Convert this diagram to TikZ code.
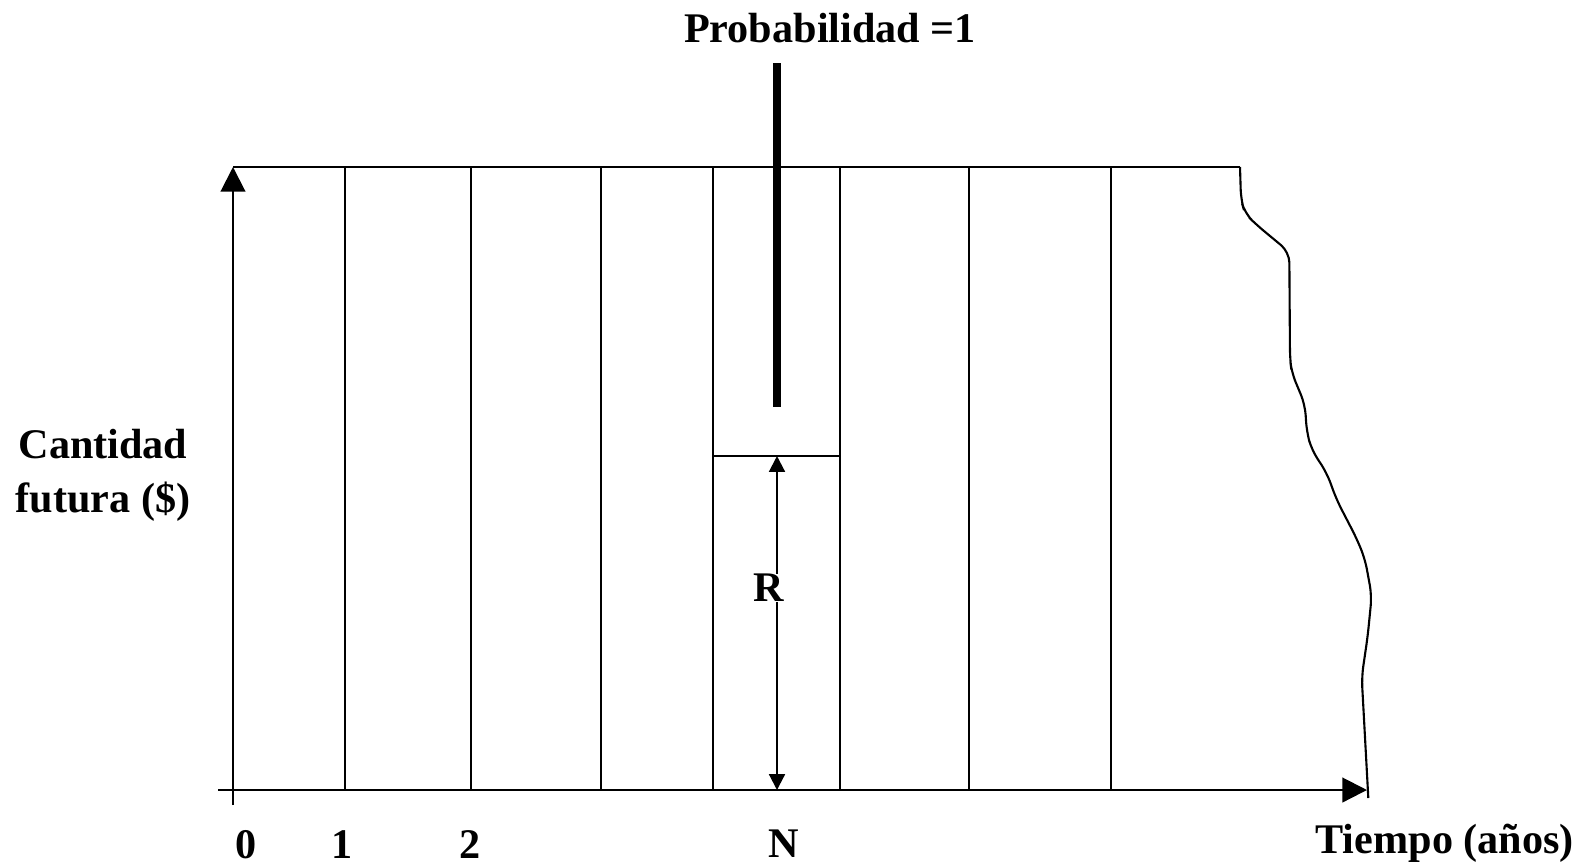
\documentclass[tikz,border=0pt]{standalone}
\usepackage{fontspec}
\setmainfont{Liberation Serif}
\usetikzlibrary{arrows.meta}
\tikzset{
	thinline/.style={line width=0.6pt, draw=black}
}
\tikzset{
	axislabel/.style={font=\fontsize{12}{15.4}\selectfont\bfseries, inner sep=0pt}
}
\tikzset{
	axisarrow/.style={thinline, -{Triangle[length=7pt,width=7pt]}}
}
\tikzset{
	rarrow/.style={thinline, {Triangle[length=4.5pt,width=4.5pt]}-{Triangle[length=4.5pt,width=4.5pt]}}
}

\begin{document}
\begin{tikzpicture}[x=0.01cm, y=-0.01cm]
\useasboundingbox (0,0) rectangle (1588,863);

\coordinate (xA) at (218,790);
\coordinate (xB) at (1367,790);
\coordinate (yA) at (233,805);
\coordinate (yB) at (233,167);
\coordinate (tB) at (1240,167);

\foreach \x in {345,471,601,713,840,969,1111}
	\draw[thinline] (\x,790) -- (\x,167);
\draw[thinline] (yB) -- (tB);
\draw[axisarrow] (xA) -- (xB);
\draw[axisarrow] (yA) -- (yB);

\coordinate (nA) at (713,456);
\coordinate (nB) at (840,456);
\coordinate (rA) at (777,456);
\coordinate (rB) at (777,790);
\draw[thinline] (nA) -- (nB);
\draw[rarrow] (rA) -- (rB);
\node[axislabel, fill=white] (lR) at (769,588) {R};

\coordinate (pA) at (777,63);
\coordinate (pB) at (777,407);
\draw[line width=2pt] (pA) -- (pB);

% torn edge
\draw[thinline, rounded corners=3pt] (tB) -- (1241,200) -- (1245,213.6) -- (1256.7,225)
	-- (1289.3,252) -- (1290,359) -- (1291.7,372.7) -- (1305,404.5) -- (1306.7,431.8)
	-- (1311.7,450) -- (1326.7,472.7) -- (1336.7,500) -- (1356.7,538.6) -- (1365,559)
	-- (1371.7,595.5) -- (1367.7,636) -- (1361.7,677) -- (1368.3,798);

\node[axislabel, anchor=base] (lProb) at (830,42.5) {Probabilidad =1};
\node[axislabel, align=center] (lCant) at (103,475) {Cantidad\\futura (\$)};
\node[axislabel, anchor=base] (lZero) at (246,858) {0};
\node[axislabel, anchor=base] (lOne) at (342,858) {1};
\node[axislabel, anchor=base] (lTwo) at (470,858) {2};
\node[axislabel, anchor=base] (lN) at (784,857) {N};
\node[axislabel, anchor=base] (lTiempo) at (1444.7,853) {Tiempo (años)};

\end{tikzpicture}
\end{document}
